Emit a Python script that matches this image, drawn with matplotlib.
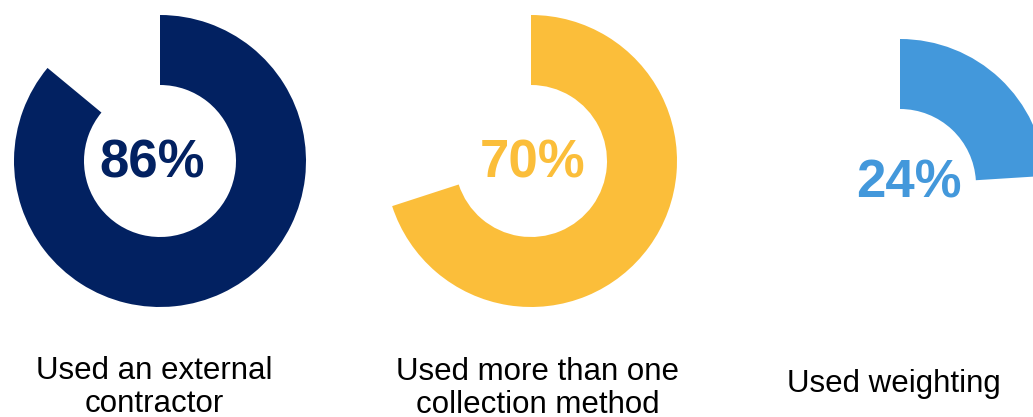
import matplotlib.pyplot as plt

plt.rcParams['font.family'] = ['Liberation Sans', 'DejaVu Sans']

labels = ['Used an external\ncontractor', 'Used more than one\ncollection method', 'Used weighting']
valores = [86, 70, 24]
colores = ['#022161', '#FBBE3A', '#4398DB']

W, H = 1033, 417
# centros de los anillos en pixeles (y hacia abajo)
centros = [(160, 161), (531, 161), (900, 185)]
pos_pct = [(152, 177), (533, 177), (909, 197)]
# baseline de la ultima linea de cada etiqueta
pos_label = [(154, 412), (538, 413), (894, 392)]

fig = plt.figure(figsize=(W / 100, H / 100), dpi=100)
ax = fig.add_axes([0, 0, 1, 1])

for i in range(len(valores)):
    cx, cy = centros[i]
    ax.pie([valores[i], 100 - valores[i]], colors=[colores[i], 'none'],
           startangle=90, counterclock=False, radius=146,
           center=(cx, H - cy), wedgeprops=dict(width=70, linewidth=0))
    px, py = pos_pct[i]
    ax.text(px, H - py, str(valores[i]) + '%', ha='center', va='baseline',
            fontsize=38, fontweight='bold', color=colores[i])
    lx, ly = pos_label[i]
    ax.text(lx, H - ly, labels[i], ha='center', va='baseline',
            fontsize=22.5, color='black', linespacing=1.15)

ax.set_xlim(0, W)
ax.set_ylim(0, H)
ax.set_aspect('equal')
ax.axis('off')

fig.savefig('out.png', dpi=100)
